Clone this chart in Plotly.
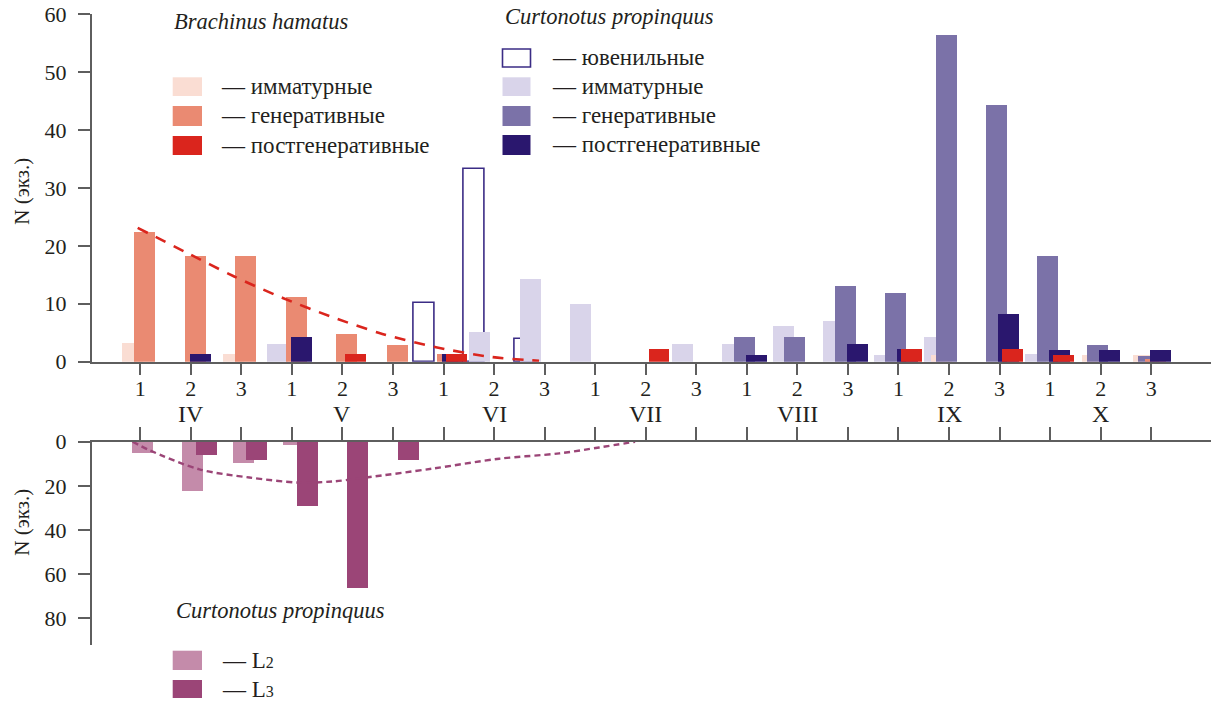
import plotly.graph_objects as go

W, H = 1211, 702

# ---------------- data ----------------
months = ["IV", "V", "VI", "VII", "VIII", "IX", "X"]
decades = ["1", "2", "3"]

bh_immature   = [3.3, 0, 1.4,  0, 0, 0,  0, 0, 0,  0, 0, 0,  0, 0, 0,  0, 1.2, 0,  0, 1.2, 1.2]
bh_generative = [22.3, 18.2, 18.2,  11.1, 4.8, 2.9,  1.4, 0, 0,  0, 0, 0,  0, 0, 0,  0, 0, 0,  0, 0, 0.5]
bh_postgen    = [0, 0, 0,  0, 1.4, 0,  1.4, 0, 0,  0, 2.2, 0,  0, 0, 0,  2.2, 0, 2.2,  1.2, 0, 0]

cp_juvenile   = [0, 0, 0,  0, 0, 0,  10.1, 33.3, 4.0,  0, 0, 0,  0, 0, 0,  0, 0, 0,  0, 0, 0]
cp_immature   = [0, 0, 0,  3.1, 0, 0,  0, 5.2, 14.2,  10.0, 0, 3.1,  3.1, 6.1, 7.1,  1.2, 4.2, 0,  1.4, 0, 0]
cp_generative = [0, 0, 0,  0, 0, 0,  0, 0, 0,  0, 0, 0,  4.2, 4.2, 13.1,  11.9, 56.4, 44.3,  18.2, 2.9, 1.0]
cp_postgen    = [0, 1.4, 0,  4.2, 0, 0,  1.4, 0, 0,  0, 0, 0,  1.2, 0, 3.1,  2.2, 0, 8.3,  2.1, 2.1, 2.1]

larva_L2 = [5, 22, 9.7,  1.2, 0, 0,  0, 0, 0,  0, 0, 0,  0, 0, 0,  0, 0, 0,  0, 0, 0]
larva_L3 = [0, 6, 8,  29, 66, 8,  0, 0, 0,  0, 0, 0,  0, 0, 0,  0, 0, 0,  0, 0, 0]

bh_trend_x = [-0.05, 0.9, 1.86, 2.82, 3.8, 4.79, 5.85, 6.96, 7.89]
bh_trend_y = [23.1, 18.9, 14.7, 11.0, 7.7, 4.8, 2.5, 0.8, 0.15]

larva_trend_x = [-0.15, 0.18, 1.17, 2.16, 3.15, 3.8, 4.47, 5.78, 7.1, 8.29, 9.08, 9.79]
larva_trend_y = [0, 3.8, 12.5, 16.2, 18.5, 18, 16.2, 12.2, 7.7, 5.3, 2.6, 0]

# ---------------- style ----------------
FONT = "Liberation Serif, Times New Roman, DejaVu Serif, serif"
TXT = "#231F20"
AX = "#5e5e5e"
C_PEACH = "#FADDD3"
C_SALMON = "#EA8A72"
C_RED = "#DA251D"
C_LAV = "#D9D4EA"
C_PURP = "#7B72A8"
C_NAVY = "#2A176E"
C_JUV = "#3B2C85"
C_L2 = "#C48BAA"
C_L3 = "#9B4577"

labels = [d for m in months for d in decades]
pos = list(range(len(labels)))
BW = 0.415


def nz(v):
    return [None if x == 0 else x for x in v]


def px_x(p):
    return p / W


def px_y(p):
    return 1 - p / H


fig = go.Figure()


def add_bar(vals, color, shift, xa="x", ya="y", line=None, fill=None):
    fig.add_trace(go.Bar(
        x=pos, y=nz(vals), width=BW, offset=shift - BW / 2,
        marker=dict(color=fill if fill else color,
                    line=dict(color=line if line else color, width=1.6 if line else 0)),
        xaxis=xa, yaxis=ya, showlegend=False, hoverinfo="skip"))


# top chart (drawing order matters)
add_bar(cp_juvenile, None, -0.386, line=C_JUV, fill="rgba(255,255,255,0)")
add_bar(cp_immature, C_LAV, -0.287)
add_bar(bh_immature, C_PEACH, -0.158)
add_bar(cp_generative, C_PURP, -0.059)
add_bar(bh_generative, C_SALMON, 0.079)
add_bar(cp_postgen, C_NAVY, 0.178)
add_bar(bh_postgen, C_RED, 0.257)

fig.add_trace(go.Scatter(x=bh_trend_x, y=bh_trend_y, mode="lines",
                         line=dict(color=C_RED, width=2.6, dash="11px,9px", shape="spline", smoothing=0.8),
                         showlegend=False, hoverinfo="skip"))

# bottom chart
add_bar(larva_L2, C_L2, 0.03, xa="x2", ya="y2")
add_bar(larva_L3, C_L3, 0.297, xa="x2", ya="y2")
fig.add_trace(go.Scatter(x=larva_trend_x, y=larva_trend_y, mode="lines", xaxis="x2", yaxis="y2",
                         line=dict(color=C_L3, width=2.4, dash="6px,4px", shape="spline", smoothing=0.9),
                         showlegend=False, hoverinfo="skip"))

xr = [(91.7 - 140.2) / 50.55, (1211 - 140.2) / 50.55]
xdom = [91.7 / W, 1.0]

axis_common = dict(showgrid=False, zeroline=False, showline=True, linecolor=AX, linewidth=1.6,
                   tickcolor=AX, tickwidth=1.6, ticks="outside", automargin=False,
                   tickfont=dict(family=FONT, size=22, color=TXT))

fig.update_layout(
    width=W, height=H, margin=dict(l=0, r=0, t=0, b=0, autoexpand=False),
    paper_bgcolor="white", plot_bgcolor="white",
    barmode="overlay", bargap=0,
    font=dict(family=FONT, color=TXT),
    xaxis=dict(domain=xdom, range=xr, anchor="y", tickmode="array", tickvals=pos, ticktext=labels,
               ticklen=11, ticklabelstandoff=-5, **axis_common),
    yaxis=dict(domain=[px_y(361.7), px_y(14)], range=[0, 60], anchor="x", tickmode="array",
               tickvals=[0, 10, 20, 30, 40, 50, 60], ticklen=12, ticklabelstandoff=7, **axis_common),
    xaxis2=dict(domain=xdom, range=xr, anchor="y2", side="top", tickmode="array", tickvals=pos,
                showticklabels=False, ticklen=13, **axis_common),
    yaxis2=dict(domain=[px_y(645), px_y(441.7)], range=[92, 0], anchor="x2", tickmode="array",
                tickvals=[0, 20, 40, 60, 80], ticklen=12, ticklabelstandoff=7, **axis_common),
)

ann = []
shapes = []

# month labels
for k, m in enumerate(months):
    ann.append(dict(x=pos[3 * k + 1], y=px_y(414), xref="x", yref="paper", text=m, showarrow=False,
                    font=dict(family=FONT, size=24, color=TXT), xanchor="center", yanchor="middle"))

# y-axis titles
for yc in (191, 522):
    ann.append(dict(x=px_x(21.7), y=px_y(yc), xref="paper", yref="paper", text="N (экз.)",
                    textangle=-90, showarrow=False, font=dict(family=FONT, size=21, color=TXT),
                    xanchor="center", yanchor="middle"))


def legend_block(title, tx, ty, sx0, sx1, textx, rows):
    ann.append(dict(x=px_x(tx), y=px_y(ty), xref="paper", yref="paper",
                    text="<i>" + title + "</i>", showarrow=False,
                    font=dict(family=FONT, size=22.5, color=TXT), xanchor="left", yanchor="middle"))
    for (y0, y1, fillc, linec, label) in rows:
        shapes.append(dict(type="rect", xref="paper", yref="paper",
                           x0=px_x(sx0), x1=px_x(sx1), y0=px_y(y1), y1=px_y(y0),
                           fillcolor=fillc, line=dict(color=linec, width=1.6 if linec else 0)))
        ann.append(dict(x=px_x(textx), y=px_y((y0 + y1) / 2), xref="paper", yref="paper",
                        text="— " + label, showarrow=False,
                        font=dict(family=FONT, size=23, color=TXT), xanchor="left", yanchor="middle"))


legend_block("Brachinus hamatus", 172, 21, 172.7, 202, 219, [
    (77.3, 96, C_PEACH, None, "имматурные"),
    (106, 126, C_SALMON, None, "генеративные"),
    (136, 155, C_RED, None, "постгенеративные"),
])
legend_block("Curtonotus propinquus", 503, 17, 502.5, 530.5, 549.5, [
    (49, 67, "white", C_JUV, "ювенильные"),
    (77.3, 96, C_LAV, None, "имматурные"),
    (106, 126, C_PURP, None, "генеративные"),
    (135, 155, C_NAVY, None, "постгенеративные"),
])
legend_block("Curtonotus propinquus", 174, 610, 172.7, 202, 219.5, [
    (650.7, 670, C_L2, None, "L<span style='font-size:16px'>2</span>"),
    (680, 698, C_L3, None, "L<span style='font-size:16px'>3</span>"),
])

fig.update_layout(annotations=ann, shapes=shapes)
fig.write_html("out.html", config={"displayModeBar": False},
               post_script="document.body.style.margin='0';document.body.style.overflow='hidden';")
